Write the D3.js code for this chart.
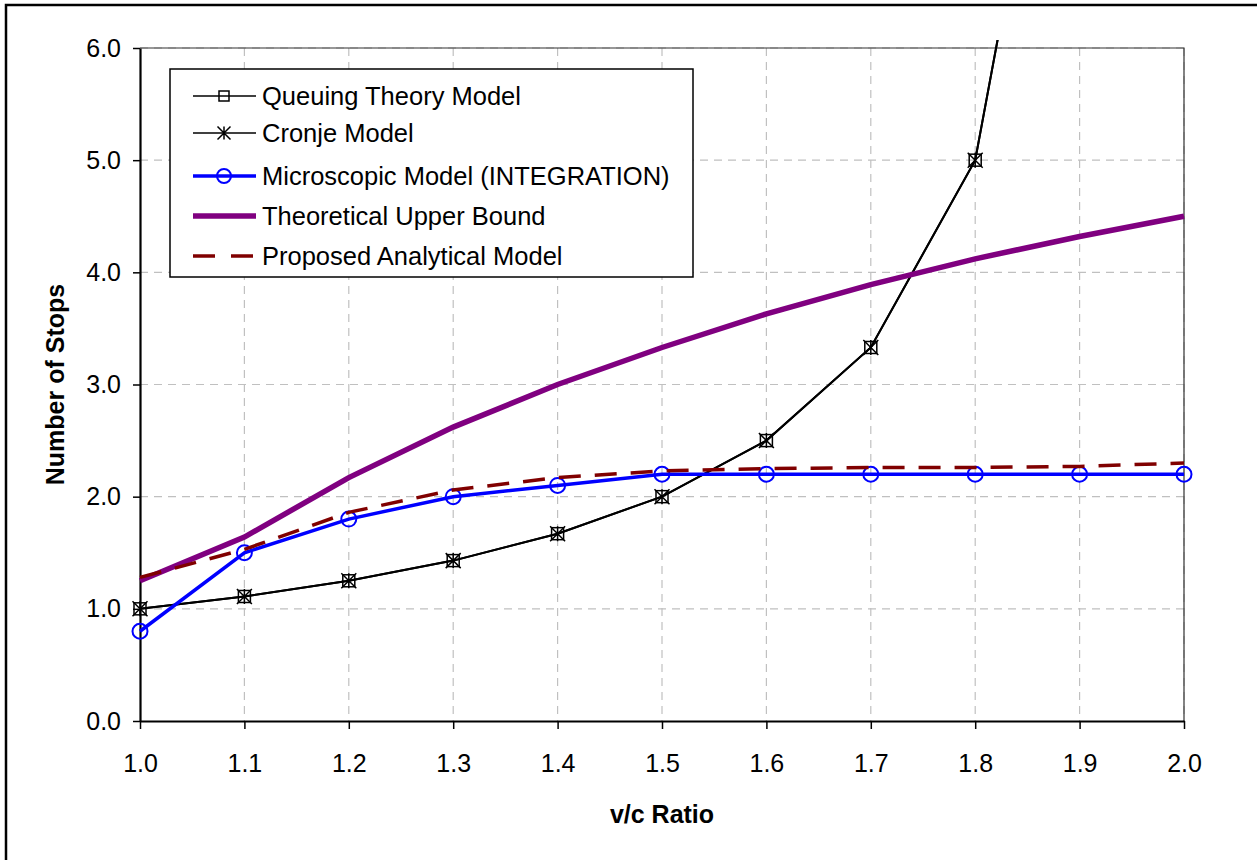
<!DOCTYPE html>
<html>
<head>
<meta charset="utf-8">
<script src="https://cdn.jsdelivr.net/npm/d3@7"></script>
<style>
  body { margin: 0; background: #fff; }
  text { font-family: "Liberation Sans", Arial, sans-serif; }
</style>
</head>
<body>
<svg id="chart" width="1257" height="860"></svg>
<script>
// data
var vcRatio   = [1.0, 1.1, 1.2, 1.3, 1.4, 1.5, 1.6, 1.7, 1.8, 1.9, 2.0];
var queuing   = [1.0, 1.11, 1.25, 1.43, 1.67, 2.0, 2.5, 3.33, 5.0, 10.0, null];
var cronje    = [1.0, 1.11, 1.25, 1.43, 1.67, 2.0, 2.5, 3.33, 5.0, 10.0, null];
var micro     = [0.8, 1.5, 1.8, 2.0, 2.1, 2.2, 2.2, 2.2, 2.2, 2.2, 2.2];
var upper     = [1.25, 1.64, 2.17, 2.62, 3.0, 3.33, 3.63, 3.89, 4.12, 4.32, 4.5];
var proposed  = [1.28, 1.53, 1.86, 2.06, 2.17, 2.23, 2.25, 2.26, 2.26, 2.27, 2.3];
var xTicks    = [1.0, 1.1, 1.2, 1.3, 1.4, 1.5, 1.6, 1.7, 1.8, 1.9, 2.0];
var yTicks    = [0, 1, 2, 3, 4, 5, 6];
var legendNames = ["Queuing Theory Model", "Cronje Model", "Microscopic Model (INTEGRATION)",
                   "Theoretical Upper Bound", "Proposed Analytical Model"];

(function(){
var svg = d3.select('#chart');
var pLeft = 140, pRight = 1184, pTop = 48, pBottom = 721;
var fontsize = 25;

var x = d3.scaleLinear().domain([1.0, 2.0]).range([pLeft, pRight]);
var y = d3.scaleLinear().domain([0, 6]).range([pBottom, pTop]);

// outer frame (runs off the right/bottom edge)
svg.append('rect')
  .attr('x', 6).attr('y', 5).attr('width', 1300).attr('height', 900)
  .attr('fill', 'none').attr('stroke', '#000').attr('stroke-width', 2.5);

// grid
var grid = svg.append('g').attr('class', 'grid')
  .attr('stroke', '#c0c0c0').attr('stroke-width', 1.2).attr('stroke-dasharray', '8,6');
grid.selectAll('.vg').data(xTicks.slice(1)).enter().append('line')
  .attr('x1', d => x(d)).attr('x2', d => x(d)).attr('y1', pTop).attr('y2', pBottom);
grid.selectAll('.hg').data(yTicks.slice(1)).enter().append('line')
  .attr('y1', d => y(d)).attr('y2', d => y(d)).attr('x1', pLeft).attr('x2', pRight);

// plot frame top/right
svg.append('path')
  .attr('d', `M${pLeft},${pTop}H${pRight}V${pBottom}`)
  .attr('fill', 'none').attr('stroke', '#333').attr('stroke-width', 1.2);

// axes
var xAxis = d3.axisBottom(x).tickValues(xTicks).tickSize(8).tickSizeOuter(0)
  .tickFormat(d3.format('.1f')).tickPadding(25);
var yAxis = d3.axisLeft(y).tickValues(yTicks).tickSize(7).tickSizeOuter(0)
  .tickFormat(d3.format('.1f')).tickPadding(12);

var gx = svg.append('g').attr('transform', `translate(0,${pBottom})`).call(xAxis);
var gy = svg.append('g').attr('transform', `translate(${pLeft},0)`).call(yAxis);
[gx, gy].forEach(g => {
  g.select('.domain').attr('stroke-width', 2.2);
  g.selectAll('.tick line').attr('stroke-width', 1.5);
  g.selectAll('text').style('font-size', fontsize + 'px')
    .style('font-family', '"Liberation Sans", Arial, sans-serif').attr('fill', '#000');
});

// axis titles
svg.append('text')
  .attr('x', (pLeft + pRight) / 2).attr('y', 823)
  .attr('text-anchor', 'middle')
  .style('font-size', fontsize + 'px').style('font-weight', 700)
  .text('v/c Ratio');
svg.append('text')
  .attr('transform', `translate(64,${(pTop + pBottom) / 2}) rotate(-90)`)
  .attr('text-anchor', 'middle')
  .style('font-size', fontsize + 'px').style('font-weight', 700)
  .text('Number of Stops');

// clip
svg.append('defs').append('clipPath').attr('id', 'clip')
  .append('rect').attr('x', pLeft - 12).attr('y', pTop - 8)
  .attr('width', pRight - pLeft + 24).attr('height', pBottom - pTop + 20);

var plot = svg.append('g').attr('clip-path', 'url(#clip)');

function series(vals) {
  return vcRatio.map((v, i) => ({ x: v, y: vals[i] })).filter(d => d.y !== null);
}
var line = d3.line().x(d => x(d.x)).y(d => y(d.y));

// marker helpers
function squareMarker(g, cx, cy, s) {
  g.append('rect').attr('x', cx - s / 2).attr('y', cy - s / 2).attr('width', s).attr('height', s)
    .attr('fill', 'none').attr('stroke', '#000').attr('stroke-width', 1.5);
}
function starMarker(g, cx, cy, s) {
  var h = s / 2;
  g.append('path')
    .attr('d', `M${cx - h},${cy - h}L${cx + h},${cy + h}M${cx - h},${cy + h}L${cx + h},${cy - h}M${cx},${cy - h}L${cx},${cy + h}`)
    .attr('stroke', '#000').attr('stroke-width', 1.5).attr('fill', 'none');
}
function circleMarker(g, cx, cy, r) {
  g.append('circle').attr('cx', cx).attr('cy', cy).attr('r', r)
    .attr('fill', 'none').attr('stroke', '#0000ff').attr('stroke-width', 2);
}

// Queuing theory
plot.append('path').datum(series(queuing)).attr('d', line)
  .attr('fill', 'none').attr('stroke', '#000').attr('stroke-width', 2);
series(queuing).forEach(d => squareMarker(plot, x(d.x), y(d.y), 12));
// Cronje
plot.append('path').datum(series(cronje)).attr('d', line)
  .attr('fill', 'none').attr('stroke', '#000').attr('stroke-width', 2);
series(cronje).forEach(d => starMarker(plot, x(d.x), y(d.y), 15));
// Microscopic
plot.append('path').datum(series(micro)).attr('d', line)
  .attr('fill', 'none').attr('stroke', '#0000ff').attr('stroke-width', 3.5);
series(micro).forEach(d => circleMarker(plot, x(d.x), y(d.y), 7.5));
// Upper bound
plot.append('path').datum(series(upper)).attr('d', line)
  .attr('fill', 'none').attr('stroke', '#800080').attr('stroke-width', 5.5);
// Proposed
plot.append('path').datum(series(proposed)).attr('d', line)
  .attr('fill', 'none').attr('stroke', '#800000').attr('stroke-width', 3.5)
  .attr('stroke-dasharray', '22,14');

// legend
var lg = svg.append('g').attr('transform', 'translate(170,69)');
lg.append('rect').attr('width', 523).attr('height', 208)
  .attr('fill', '#fff').attr('stroke', '#000').attr('stroke-width', 1.5);
var rowY = [27, 64, 107, 147, 187];
legendNames.forEach((name, i) => {
  var ry = rowY[i];
  var ln = lg.append('line').attr('x1', 23).attr('x2', 86).attr('y1', ry).attr('y2', ry);
  if (i === 0 || i === 1) ln.attr('stroke', '#000').attr('stroke-width', 1.5);
  if (i === 2) ln.attr('stroke', '#0000ff').attr('stroke-width', 3.5);
  if (i === 3) ln.attr('stroke', '#800080').attr('stroke-width', 5.5);
  if (i === 4) ln.attr('stroke', '#800000').attr('stroke-width', 3.5).attr('stroke-dasharray', '22,16');
  if (i === 0) squareMarker(lg, 54, ry, 10);
  if (i === 1) starMarker(lg, 54, ry, 13);
  if (i === 2) circleMarker(lg, 54, ry, 7);
  lg.append('text').attr('x', 92).attr('y', ry + 9)
    .style('font-size', '25.5px').text(name);
});
})();
</script>
</body>
</html>
